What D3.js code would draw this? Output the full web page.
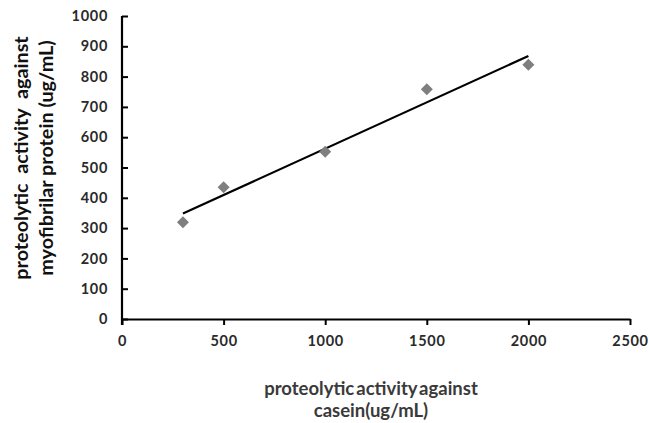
<!DOCTYPE html>
<html>
<head>
<meta charset="utf-8">
<script src="https://cdn.jsdelivr.net/npm/d3@7"></script>
<style>
  html, body { margin: 0; padding: 0; background: #fff; }
  svg { display: block; }
</style>
</head>
<body>
<svg id="chart" width="650" height="423"></svg>
<script>
// Proteolytic activity: casein vs. myofibrillar protein
const caseinActivity = [300, 500, 1000, 1500, 2000];
const myofibrilActivity = [319, 435, 552, 758, 839];
const xTicks = [0, 500, 1000, 1500, 2000, 2500];
const yTicks = [0, 100, 200, 300, 400, 500, 600, 700, 800, 900, 1000];
const xTitleLines = ["proteolytic activity against", "casein(ug/mL)"];
const yTitleLines = ["proteolytic  activity  against", "myofibrilar protein (ug/mL)"];

const svg = d3.select("#chart");
const font = "Lato, 'Open Sans', sans-serif";

const x = d3.scaleLinear().domain([0, 2500]).range([122, 630]);
const y = d3.scaleLinear().domain([0, 1000]).range([319, 16]);

// Least-squares trend line through the points
const n = caseinActivity.length;
const mx = d3.mean(caseinActivity), my = d3.mean(myofibrilActivity);
let sxy = 0, sxx = 0;
for (let i = 0; i < n; i++) {
  sxy += (caseinActivity[i] - mx) * (myofibrilActivity[i] - my);
  sxx += (caseinActivity[i] - mx) ** 2;
}
const slope = sxy / sxx, intercept = my - slope * mx;
const x0 = d3.min(caseinActivity), x1 = d3.max(caseinActivity);

// Axes
const fmt = d3.format("d");
const xAxis = svg.append("g").attr("transform", `translate(0,${y(0)})`)
  .call(d3.axisBottom(x).tickValues(xTicks).tickFormat(fmt)
    .tickSize(6).tickSizeOuter(0).tickPadding(11));
const yAxis = svg.append("g").attr("transform", `translate(${x(0)},0)`)
  .call(d3.axisLeft(y).tickValues(yTicks).tickFormat(fmt)
    .tickSize(-6).tickSizeOuter(0).tickPadding(14));

[xAxis, yAxis].forEach(g => {
  g.select(".domain").attr("stroke", "#000").attr("stroke-width", 2.2);
  g.selectAll(".tick line").attr("stroke", "#000").attr("stroke-width", 2);
  g.selectAll(".tick text").attr("fill", "#2a2a2a").style("font-family", font)
    .style("font-size", "14.5px").style("font-weight", "bold")
    .style("letter-spacing", "0.7px");
});
// y axis runs slightly below the origin
yAxis.select(".domain").attr("d", `M0,${y(1000)}V${y(0) + 6}`);

// Trend line
svg.append("line")
  .attr("x1", x(x0)).attr("y1", y(intercept + slope * x0))
  .attr("x2", x(x1)).attr("y2", y(intercept + slope * x1))
  .attr("stroke", "#000").attr("stroke-width", 2.2);

// Diamond markers
const diamond = d3.symbol().type(d3.symbolSquare).size(72);
svg.append("g").selectAll("path")
  .data(caseinActivity.map((c, i) => [c, myofibrilActivity[i]]))
  .join("path")
  .attr("d", diamond)
  .attr("transform", d => `translate(${x(d[0])},${y(d[1])}) rotate(45)`)
  .attr("fill", "#7f7f7f");

// Axis titles
svg.append("text")
  .attr("text-anchor", "middle")
  .style("font-family", font).style("font-size", "18.5px").style("font-weight", "bold")
  .style("word-spacing", "-2.5px")
  .attr("fill", "#3a3a3a")
  .selectAll("tspan").data(xTitleLines).join("tspan")
  .attr("x", 371).attr("y", (d, i) => 395 + i * 22)
  .text(d => d);

const yt = svg.append("text")
  .attr("transform", "translate(28,158) rotate(-90)")
  .attr("text-anchor", "middle")
  .style("font-family", font).style("font-size", "19.8px").style("font-weight", "bold")
  .attr("fill", "#111");
yt.selectAll("tspan").data(yTitleLines).join("tspan")
  .attr("x", 0).attr("y", (d, i) => i * 25)
  .style("white-space", "pre").attr("xml:space", "preserve")
  .text(d => d);
</script>
</body>
</html>
